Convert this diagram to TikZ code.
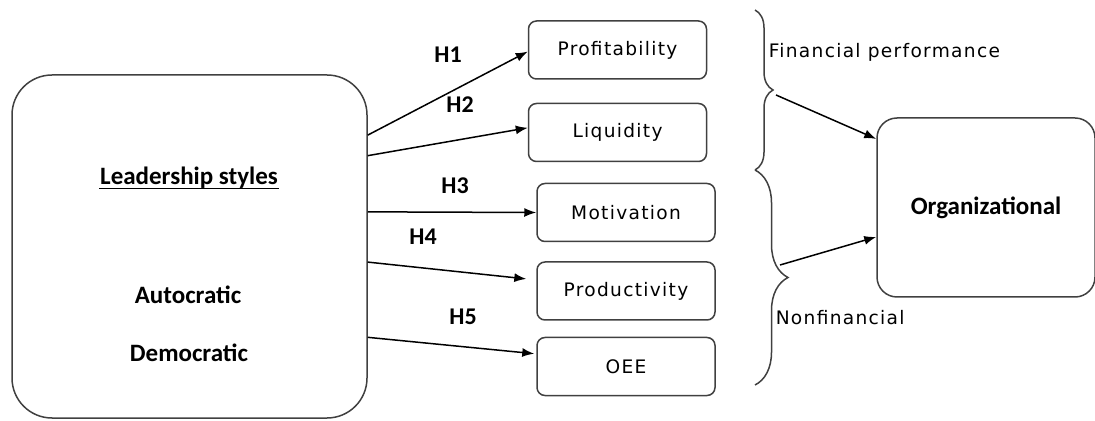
\documentclass[tikz,border=0pt]{standalone}
\usepackage{fontspec}
\setmainfont{DejaVu Sans}[LetterSpace=7]
\newfontfamily\hfont{Carlito}
\usepackage{tikz}
\usetikzlibrary{arrows.meta,shapes,positioning,decorations.pathreplacing}
\tikzset{
  basic/.style   = {draw=black!75, line width=0.75pt, rectangle, inner sep=0pt,
                    font=\fontsize{9.3}{11}\selectfont},
  styles/.style  = {basic, rounded corners=20pt, minimum width=177.5pt,
                    minimum height=171.5pt},
  measure/.style = {basic, rounded corners=4pt, minimum width=89pt,
                    minimum height=29pt},
  outcome/.style = {basic, rounded corners=10pt, minimum width=109pt,
                    minimum height=89.5pt, font=\hfont\bfseries\fontsize{12.5}{14}\selectfont},
  head/.style    = {inner sep=0pt, font=\hfont\bfseries\fontsize{12.5}{14}\selectfont},
  hyp/.style     = {head, font=\hfont\bfseries\fontsize{12}{14}\selectfont},
  side/.style    = {inner sep=0pt, anchor=west, font=\fontsize{9.3}{11}\selectfont},
  bracket/.style = {draw=black!75, line width=0.75pt, decorate}
}

\begin{document}
\begin{tikzpicture}[x=0.5pt, y=-0.5pt, line width=0.75pt,
  >={Latex[length=6pt,width=4.5pt]}]
\useasboundingbox (0,0) rectangle (1095,421);

% leadership styles box, level 0
\node[styles] (c0) at (189.5,246.5) {};
\node[head] (c01) at (189,178) {Leadership styles};
\node[head] (c02) at (188,295) {Autocratic};
\node[head] (c03) at (189,353) {Democratic};
\draw[line width=0.9pt] ([yshift=-1.8pt]c01.base west) -- ([yshift=-1.8pt]c01.base east);

% the measures, relatively positioned nodes
\begin{scope}[every node/.style={measure}, node distance=40pt]
\node (c1) at (617.5,50) {Profitability};
\node [below of = c1, yshift=-1.25pt] (c2) {Liquidity};
\node [below of = c2, xshift=4.25pt] (c3) {Motivation};
\node [below of = c3, yshift=0.75pt] (c4) {Productivity};
\node [below of = c4, yshift=2.25pt] (c5) {OEE};
\end{scope}

% organizational box
\node[outcome] (c6) at (986,207.5) {Organizational};

% hypotheses
\foreach \value/\pos in {1/{(448,55)}, 2/{(460,105)}, 3/{(455,186)},
                         4/{(423,237)}, 5/{(463,317)}}
  \node[hyp] (h\value) at \pos {H\value};

% braces and their texts
\coordinate (b0) at (755,10);
\coordinate (b1) at (755,170);
\coordinate (b2) at (755,385);
\draw[bracket, decoration={brace, amplitude=9pt}] (b0) -- (b1);
\draw[bracket, decoration={brace, amplitude=16.5pt}] (b1) -- (b2);
\node[side] (f1) at (768,52) {Financial performance};
\node[side] (f2) at (775,318) {Nonfinancial};
\coordinate (t1) at (776,95);
\coordinate (t2) at (780,265);

% lines from the leadership styles to every measure
\foreach \a/\value/\b/\s in {32/1/181/0, 27/2/177/0, 11/3/180/0,
                             355/4/173/5, 333/5/172/1}
  \draw[->, shorten >=\s pt] (c0.\a) -- (c\value.\b);

\draw[->] (t1) -- (c6.148);
\draw[->] (t2) -- (c6.195);

\end{tikzpicture}
\end{document}
